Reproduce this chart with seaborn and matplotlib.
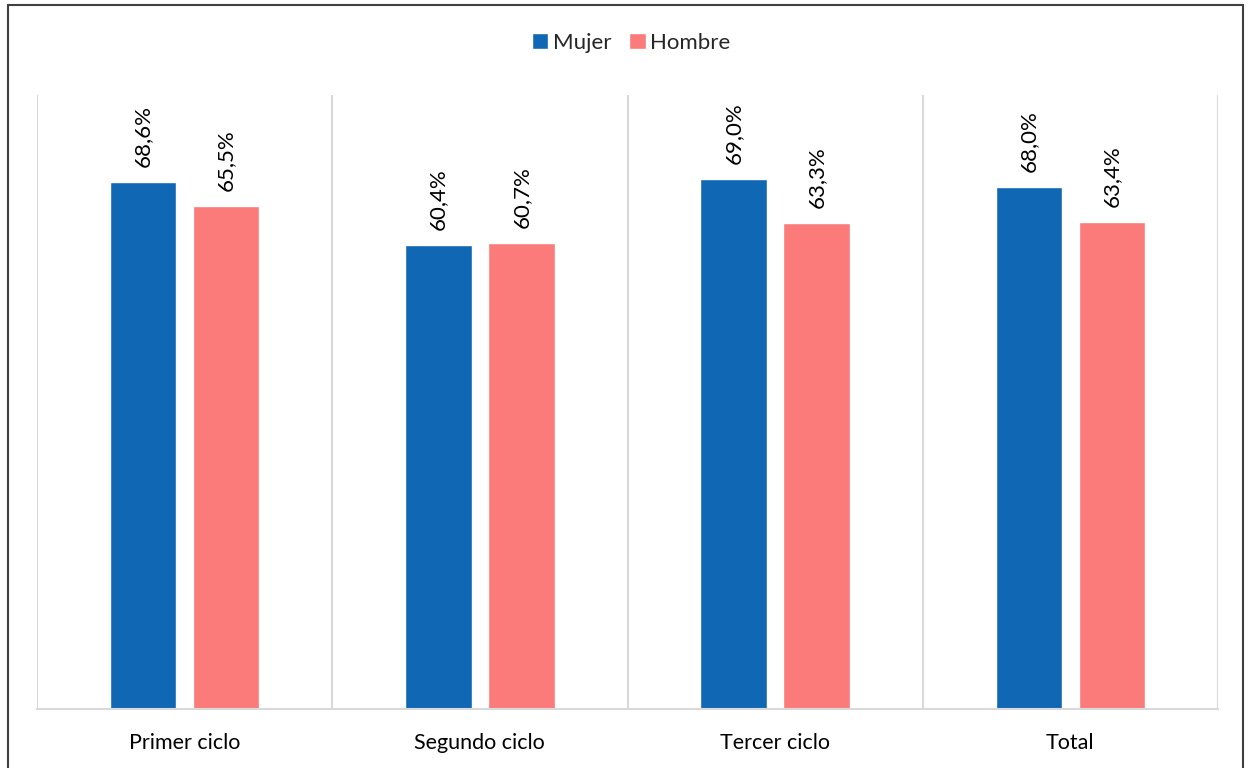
import matplotlib
matplotlib.use("Agg")
import matplotlib.pyplot as plt
import seaborn as sns
import pandas as pd
from matplotlib.patches import Rectangle

categories = ["Primer ciclo", "Segundo ciclo", "Tercer ciclo", "Total"]
series_names = ["Mujer", "Hombre"]
mujer = [68.6, 60.4, 69.0, 68.0]
hombre = [65.5, 60.7, 63.3, 63.4]
colors = ["#1068B4", "#FA7B79"]

df = pd.DataFrame({
    "cat": categories * 2,
    "serie": [series_names[0]] * 4 + [series_names[1]] * 4,
    "val": mujer + hombre,
})

sns.set_style("white")
plt.rcParams["font.family"] = ["Lato", "DejaVu Sans"]

fig = plt.figure(figsize=(12.48, 7.68), dpi=100)
ax = fig.add_axes([37 / 1248, 1 - 709 / 768, (1218 - 37) / 1248, (709 - 95) / 768])

sns.barplot(data=df, x="cat", y="val", hue="serie", order=categories,
            hue_order=series_names, palette=colors, width=0.563, gap=0.2,
            errorbar=None, ax=ax, legend=True, saturation=1)

ax.set_ylim(0, 80)
ax.set_xlim(-0.5, 3.5)
ax.set_yticks([])
ax.set_xlabel("")
ax.set_ylabel("")
for s in ["top", "left", "right"]:
    ax.spines[s].set_visible(False)
ax.spines["bottom"].set_color("#D9D9D9")
ax.spines["bottom"].set_linewidth(1.5)
for xb in [-0.5, 0.5, 1.5, 2.5, 3.5]:
    ax.axvline(xb, color="#D9D9D9", lw=1.5, zorder=0)
ax.tick_params(axis="x", length=0, labelsize=15.5, pad=17, colors="black")

for cont in ax.containers:
    for bar in cont:
        h = bar.get_height()
        ax.annotate(f"{h:.1f}".replace(".", ",") + "%",
                    (bar.get_x() + bar.get_width() / 2, h),
                    xytext=(0, 11), textcoords="offset points",
                    rotation=90, ha="center", va="bottom", fontsize=16,
                    color="black")

leg = ax.legend(loc="center", bbox_to_anchor=(631 / 1248, 1 - 43 / 768),
                bbox_transform=fig.transFigure, ncol=2, frameon=False,
                fontsize=16, handlelength=0.75, handleheight=0.75,
                handletextpad=0.2, columnspacing=0.8)

fig.patches.append(Rectangle((7.5 / 1248, -0.01), (1243 - 7.5) / 1248, 1.01 - 5.5 / 768,
                             transform=fig.transFigure, fill=False,
                             edgecolor="#404040", lw=1.5))

fig.savefig("out.png", dpi=100)
